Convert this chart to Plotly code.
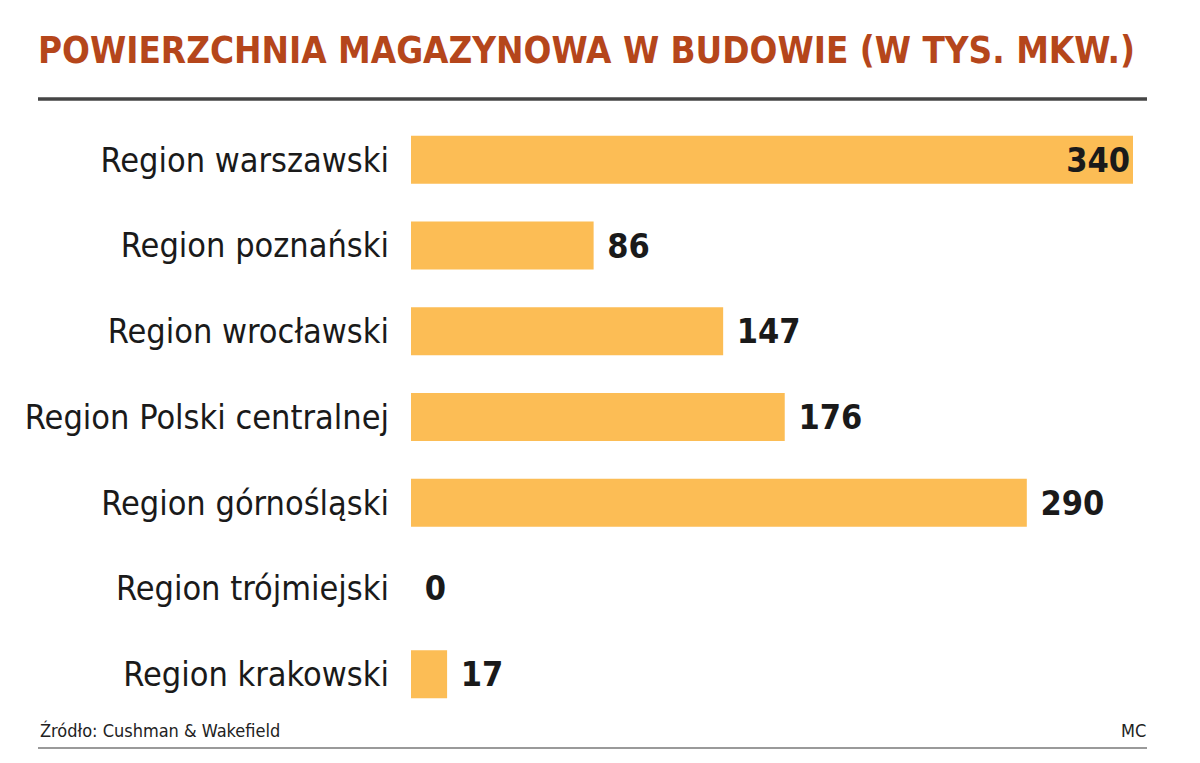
import plotly.graph_objects as go

# Dane
regiony = ['Region warszawski', 'Region poznański', 'Region wrocławski',
           'Region Polski centralnej', 'Region górnośląski', 'Region trójmiejski',
           'Region krakowski']
wartosci = [340, 86, 147, 176, 290, 0, 17]
pozycje_tekstu = ['inside', 'outside', 'outside', 'outside', 'outside', 'outside', 'outside']

# strona ma 8 px marginesu, więc liczę pozycje względem tego
OFF = 8
W, H = 1192, 755
kolor_slupka = '#FCBD55'
kolor_tytulu = '#B5461B'
czcionka = '"DejaVu Sans Condensed", "Liberation Sans Narrow", Roboto, sans-serif'


def px_x(p):
    return (p - OFF) / W


def px_y(p):
    return 1 - (p - OFF) / H


fig = go.Figure()
fig.add_trace(go.Bar(
    x=wartosci, y=regiony, orientation='h',
    marker=dict(color=kolor_slupka, line=dict(width=0)),
    width=0.56,
    text=wartosci, texttemplate='\u00a0%{x}', textposition=pozycje_tekstu,
    insidetextanchor='end',
    textfont=dict(family=czcionka, size=34, color='#1a1a1a', weight='bold'),
    cliponaxis=False,
    hoverinfo='skip',
))

fig.update_layout(
    width=W, height=H,
    margin=dict(l=0, r=0, t=0, b=0),
    paper_bgcolor='white', plot_bgcolor='white',
    showlegend=False,
    xaxis=dict(domain=[px_x(411), px_x(1133)], range=[0, 340], visible=False, fixedrange=True),
    yaxis=dict(domain=[px_y(717), px_y(117)], autorange='reversed',
               showgrid=False, showline=False, ticks='', ticklabelstandoff=21,
               tickfont=dict(family=czcionka, size=34, color='#1a1a1a')),
    font=dict(family=czcionka),
)

# Tytuł i podpisy
fig.add_annotation(x=px_x(36), y=px_y(50), xref='paper', yref='paper',
                   xanchor='left', yanchor='middle', showarrow=False,
                   text='<b>POWIERZCHNIA MAGAZYNOWA W BUDOWIE (W TYS. MKW.)</b>',
                   font=dict(family=czcionka, size=36.5, color=kolor_tytulu))
fig.add_annotation(x=px_x(38), y=px_y(730), xref='paper', yref='paper',
                   xanchor='left', yanchor='middle', showarrow=False,
                   text='Źródło: Cushman & Wakefield',
                   font=dict(family=czcionka, size=18, color='#222'))
fig.add_annotation(x=px_x(1148), y=px_y(730), xref='paper', yref='paper',
                   xanchor='right', yanchor='middle', showarrow=False,
                   text='MC', font=dict(family=czcionka, size=18, color='#222'))

# Linie
fig.add_shape(type='line', xref='paper', yref='paper',
              x0=px_x(38), x1=px_x(1147), y0=px_y(99), y1=px_y(99),
              line=dict(color='#454545', width=3.5))
fig.add_shape(type='line', xref='paper', yref='paper',
              x0=px_x(38), x1=px_x(1147), y0=px_y(748), y1=px_y(748),
              line=dict(color='#9a9a9a', width=2))

fig.write_html('out.html')
